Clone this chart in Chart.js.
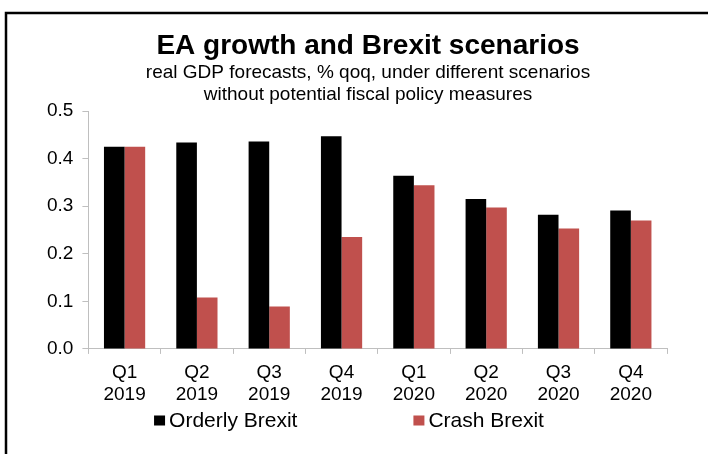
<!DOCTYPE html>
<html lang="en">
<head>
<meta charset="utf-8">
<title>EA growth and Brexit scenarios</title>
<script src="https://cdn.jsdelivr.net/npm/chart.js@4.4.1/dist/chart.umd.min.js"></script>
<style>
  html, body { margin: 0; padding: 0; background: #ffffff; }
  #chart { display: block; }
</style>
</head>
<body>
<canvas id="chart" width="708" height="454"></canvas>
<script>
'use strict';

// ***** DATA *****
const chartTitle = 'EA growth and Brexit scenarios';
const chartSubtitle = [
  'real GDP forecasts, % qoq, under different scenarios',
  'without potential fiscal policy measures'
];
const quarters = [
  ['Q1', '2019'], ['Q2', '2019'], ['Q3', '2019'], ['Q4', '2019'],
  ['Q1', '2020'], ['Q2', '2020'], ['Q3', '2020'], ['Q4', '2020']
];
const orderlyBrexit = [0.425, 0.434, 0.436, 0.447, 0.364, 0.315, 0.282, 0.291];
const crashBrexit = [0.425, 0.108, 0.089, 0.235, 0.344, 0.297, 0.253, 0.270];
const yTicks = [0.0, 0.1, 0.2, 0.3, 0.4, 0.5];

const FONT = 'Liberation Sans, Arial, sans-serif';
const AXIS_GREY = '#bfbfbf';

// ***** PLUGINS *****

// frame line along the top and left edge
const framePlugin = {
  id: 'frame',
  beforeDraw(chart) {
    const ctx = chart.ctx;
    ctx.save();
    ctx.strokeStyle = '#000000';
    ctx.lineWidth = 2.5;
    ctx.beginPath();
    ctx.moveTo(6, chart.height);
    ctx.lineTo(6, 13);
    ctx.lineTo(chart.width, 13);
    ctx.stroke();
    ctx.restore();
  }
};

// title + two subtitle lines, centred a little right of the canvas middle
const headline = {
  id: 'headline',
  afterDraw(chart) {
    const ctx = chart.ctx;
    const cx = 368;
    ctx.save();
    ctx.fillStyle = '#000000';
    ctx.textAlign = 'center';
    ctx.textBaseline = 'alphabetic';
    ctx.font = 'bold 28px ' + FONT;
    ctx.fillText(chartTitle, cx, 54);
    ctx.font = '19px ' + FONT;
    chartSubtitle.forEach((line, i) => {
      ctx.fillText(line, cx, 78 + i * 22);
    });
    ctx.restore();
  }
};

// legend row under the axis labels, items spread wide apart
const bottomLegend = {
  id: 'bottomLegend',
  afterDraw(chart) {
    const ctx = chart.ctx;
    const sets = chart.data.datasets;
    const y = chart.scales.x.bottom + 6.5;
    const box = 10;
    const gap = 5;
    const spacing = 116;
    ctx.save();
    ctx.font = '21px ' + FONT;
    ctx.textBaseline = 'middle';

    let total = 0;
    const widths = sets.map(ds => box + gap + ctx.measureText(ds.label).width);
    widths.forEach(w => { total += w; });
    total += spacing * (sets.length - 1);

    let x = chart.width / 2 - 5 - total / 2;
    sets.forEach((ds, i) => {
      ctx.fillStyle = ds.backgroundColor;
      ctx.fillRect(x, y - box / 2, box + 1, box);
      ctx.fillStyle = '#000000';
      ctx.fillText(ds.label, x + box + gap, y + 1);
      x += widths[i] + spacing;
    });
    ctx.restore();
  }
};

// ***** CHART *****
const ctx = document.getElementById('chart').getContext('2d');

const myChart = new Chart(ctx, { //eslint-disable-line
  type: 'bar',
  data: {
    labels: quarters,
    datasets: [{
      label: 'Orderly Brexit',
      data: orderlyBrexit,
      backgroundColor: '#000000'
    },
    {
      label: 'Crash Brexit',
      data: crashBrexit,
      backgroundColor: '#c0504d'
    }]
  },
  options: {
    responsive: false,
    animation: false,
    devicePixelRatio: 1,
    categoryPercentage: 0.57,
    barPercentage: 1.0,
    layout: {
      padding: { top: 111, left: 38, right: 41, bottom: 40 }
    },
    plugins: {
      legend: { display: false },
      tooltip: { enabled: false }
    },
    scales: {
      x: {
        grid: {
          drawOnChartArea: false,
          drawTicks: true,
          tickLength: 5,
          color: AXIS_GREY
        },
        border: { display: true, color: AXIS_GREY, width: 1 },
        ticks: {
          color: '#000000',
          padding: 8,
          maxRotation: 0,
          autoSkip: false,
          font: { family: FONT, size: 19, lineHeight: 1.16 }
        }
      },
      y: {
        min: 0,
        max: 0.5,
        afterBuildTicks(scale) {
          scale.ticks = yTicks.map(v => ({ value: v }));
        },
        grid: {
          drawOnChartArea: false,
          drawTicks: true,
          tickLength: 6,
          color: AXIS_GREY
        },
        border: { display: true, color: AXIS_GREY, width: 1 },
        ticks: {
          color: '#000000',
          padding: 9,
          font: { family: FONT, size: 19 },
          callback: v => Number(v).toFixed(1)
        }
      }
    }
  },
  plugins: [framePlugin, headline, bottomLegend]
});
</script>
</body>
</html>
